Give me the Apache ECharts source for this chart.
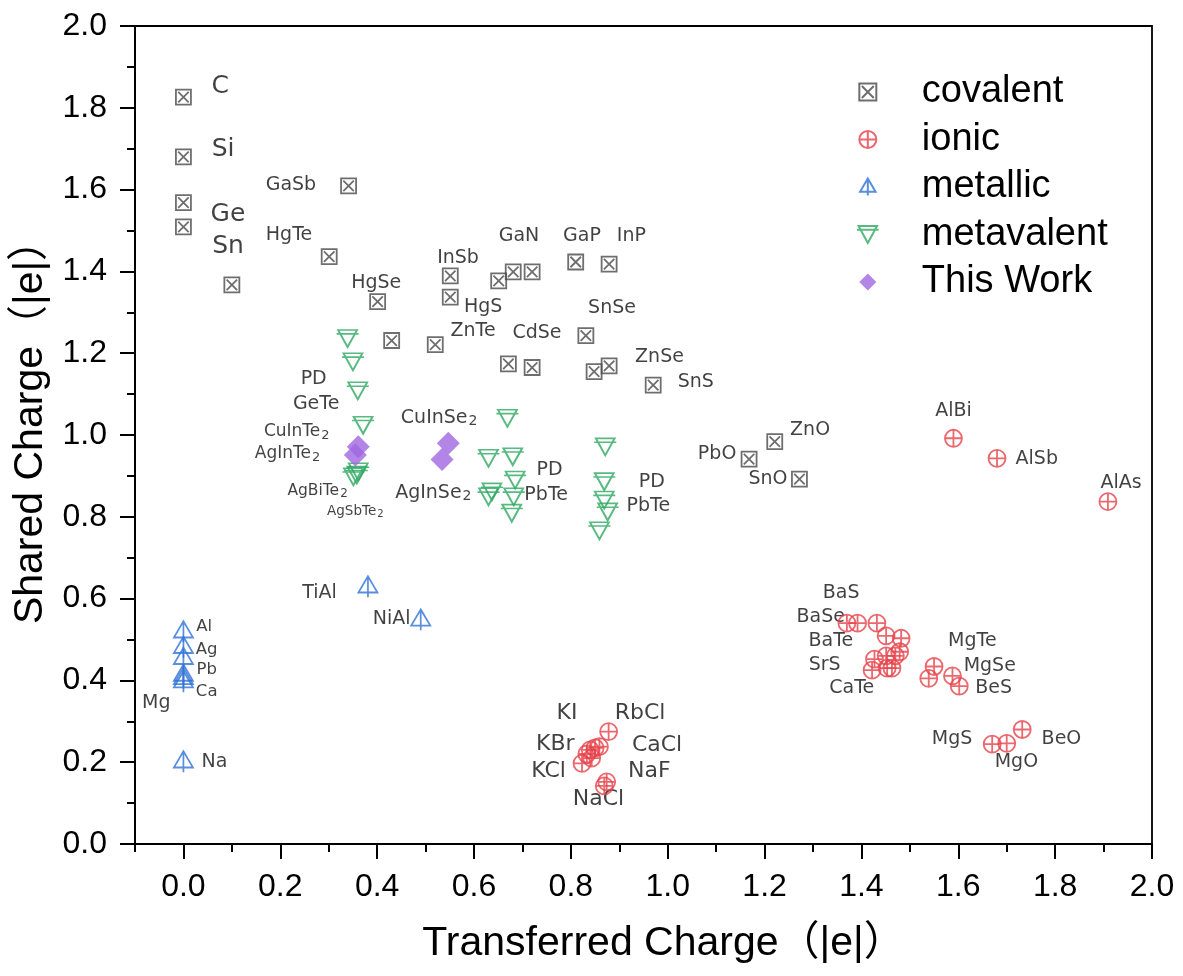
<!DOCTYPE html>
<html><head><meta charset="utf-8">
<script src="https://cdn.jsdelivr.net/npm/echarts@6/dist/echarts.min.js"></script>
<style>html,body{margin:0;padding:0;background:#fff}#c{width:1183px;height:976px}</style>
</head><body><div id="c"></div>
<script>
// ---- tick values ----
const xTicks = [0.0, 0.2, 0.4, 0.6, 0.8, 1.0, 1.2, 1.4, 1.6, 1.8, 2.0];
const xMinorTicks = [-0.1, 0.1, 0.3, 0.5, 0.7, 0.9, 1.1, 1.3, 1.5, 1.7, 1.9];

// ---- series data [transferred, shared] ----
const covalent = [
  [0.000,1.826],[0.000,1.680],[0.000,1.568],[0.000,1.509],[0.100,1.367],
  [0.341,1.609],[0.301,1.436],[0.401,1.326],[0.430,1.231],[0.520,1.221],
  [0.551,1.389],[0.551,1.337],[0.651,1.377],[0.681,1.399],[0.720,1.399],
  [0.810,1.423],[0.879,1.418],[0.831,1.243],[0.671,1.174],[0.720,1.165],
  [0.848,1.155],[0.879,1.169],[0.970,1.122],[1.168,0.941],[1.221,0.984],[1.272,0.892]
];
const ionic = [
  [1.590,0.992],[1.680,0.943],[1.909,0.837],
  [1.370,0.540],[1.392,0.540],[1.432,0.540],[1.451,0.509],[1.482,0.503],
  [1.479,0.470],[1.451,0.460],[1.427,0.452],[1.470,0.460],[1.422,0.425],
  [1.453,0.430],[1.463,0.430],[1.550,0.434],[1.539,0.405],[1.588,0.411],[1.602,0.386],
  [1.670,0.244],[1.700,0.246],[1.732,0.280],
  [0.878,0.275],[0.859,0.238],[0.850,0.235],[0.840,0.230],[0.833,0.220],
  [0.843,0.210],[0.823,0.197],[0.874,0.152],[0.869,0.142]
];
const metallic = [
  [0.000,0.519],[0.000,0.481],[0.000,0.454],[0.000,0.413],[0.000,0.405],[0.000,0.397],
  [0.000,0.201],[0.381,0.629],[0.490,0.548]
];
const metavalent = [
  [0.339,1.236],[0.350,1.179],[0.360,1.108],[0.371,1.024],[0.361,0.910],[0.351,0.898],[0.358,0.902],
  [0.669,1.041],[0.630,0.943],[0.680,0.947],[0.685,0.890],[0.637,0.861],[0.630,0.849],[0.682,0.849],[0.678,0.809],
  [0.871,0.971],[0.869,0.886],[0.869,0.841],[0.876,0.812],[0.859,0.766]
];
const thisWork = [
  [0.361,0.971],[0.355,0.951],[0.547,0.980],[0.534,0.940]
];

// ---- annotation labels [text, x, y] ----
const annoElements = [['C',0.076,1.852],['Si',0.082,1.697],['Ge',0.092,1.538],['Sn',0.092,1.460]];
const annoSalts = [
  ['KI',0.792,0.320],['RbCl',0.943,0.320],['KBr',0.768,0.244],['CaCl',0.978,0.242],
  ['KCl',0.754,0.179],['NaF',0.962,0.179],['NaCl',0.857,0.109]
];
const annoCompounds = [
  ['GaSb',0.222,1.610],['HgTe',0.218,1.489],['InSb',0.567,1.433],['HgSe',0.398,1.372],
  ['HgS',0.619,1.313],['ZnTe',0.598,1.253],['CdSe',0.730,1.250],['SnSe',0.885,1.310],
  ['ZnSe',0.983,1.191],['SnS',1.058,1.130],['GaN',0.693,1.487],['GaP',0.823,1.487],
  ['InP',0.925,1.487],['PbO',1.102,0.954],['SnO',1.207,0.892],['ZnO',1.294,1.012],
  ['AlBi',1.590,1.059],['AlSb',1.762,0.941],['AlAs',1.936,0.882],
  ['BaS',1.358,0.614],['BaSe',1.316,0.556],['BaTe',1.337,0.497],['SrS',1.324,0.438],
  ['CaTe',1.380,0.381],['MgTe',1.629,0.497],['MgSe',1.665,0.435],['BeS',1.673,0.381],
  ['MgS',1.587,0.256],['MgO',1.720,0.201],['BeO',1.813,0.256],
  ['Mg',-0.056,0.344],['Na',0.064,0.201],['TiAl',0.281,0.613],['NiAl',0.430,0.549],
  ['PD',0.269,1.136],['GeTe',0.274,1.076],['CuInSe₂',0.528,1.042],['AgInSe₂',0.516,0.859],
  ['PD',0.756,0.914],['PbTe',0.749,0.853],['PD',0.967,0.886],['PbTe',0.960,0.826]
];
const annoMetals = [['Al',0.043,0.531],['Ag',0.048,0.476],['Pb',0.048,0.425],['Ca',0.048,0.372]];
const annoTellurides = [['CuInTe₂',0.234,1.008],['AgInTe₂',0.215,0.954]];
const annoAgBiTe = [['AgBiTe₂',0.277,0.864]];
const annoAgSbTe = [['AgSbTe₂',0.355,0.812]];

// ---- chart ----
const SANS = 'Liberation Sans, Arial, Noto Sans CJK SC, sans-serif';
const LBL = 'DejaVu Sans, Verdana, sans-serif';
const clear = 'rgba(255,255,255,0)';

function markerSeries(name, data, symbol, size, color) {
  return {
    name, type: 'scatter', data, symbol, symbolSize: size, silent: true, z: 4,
    itemStyle: { color: clear, borderColor: color, borderWidth: 1.8 }
  };
}
function annoSeries(list, fontSize) {
  return {
    type: 'scatter', silent: true, z: 3, symbolSize: 1,
    itemStyle: { color: clear },
    data: list.map(d => ({ name: d[0], value: [d[1], d[2]] })),
    label: {
      show: true, position: 'inside', color: '#111', fontFamily: LBL, fontSize,
      formatter: p => p.name.indexOf('₂') >= 0 ? '{n|' + p.name.replace('₂', '') + '}{s|2}' : p.name,
      rich: {
        n: { fontFamily: LBL, fontSize, color: '#111', lineHeight: fontSize },
        s: { fontFamily: LBL, fontSize: Math.round(fontSize * 0.75), color: '#111',
             padding: [Math.round(fontSize * 0.4), 0, 0, 1] }
      }
    }
  };
}

const chart = echarts.init(document.getElementById('c'), null, { renderer: 'canvas' });
chart.setOption({
  animation: false,
  backgroundColor: '#fff',
  grid: { left: 135, right: 31, top: 26, bottom: 132, show: true,
          borderColor: '#000', borderWidth: 1.8, backgroundColor: clear },
  legend: {
    data: ['covalent', 'ionic', 'metallic', 'metavalent', 'This Work'],
    orient: 'vertical', left: 851, top: 68, itemWidth: 98, itemHeight: 17, itemGap: 9.5,
    textStyle: { fontFamily: SANS, fontSize: 38, color: '#000' },
    selectedMode: false
  },
  xAxis: [{
    type: 'value', min: -0.1, max: 2.0,
    name: 'Transferred Charge（|e|）', nameLocation: 'middle', nameGap: 79,
    nameTextStyle: { fontFamily: SANS, fontSize: 41, color: '#000', padding: [0, 0, 0, 40] },
    axisLine: { show: true, onZero: false, lineStyle: { color: '#000', width: 2 } },
    axisTick: { show: true, customValues: xTicks, length: 15, lineStyle: { color: '#000', width: 2 } },
    axisLabel: { customValues: xTicks, formatter: v => v.toFixed(1), margin: 27,
                 fontFamily: SANS, fontSize: 32, color: '#000' },
    splitLine: { show: false }
  }, {
    type: 'value', min: -0.1, max: 2.0, position: 'bottom',
    axisLine: { show: false },
    axisTick: { show: true, customValues: xMinorTicks, length: 8, lineStyle: { color: '#000', width: 2 } },
    axisLabel: { show: false },
    splitLine: { show: false }
  }],
  yAxis: {
    type: 'value', min: 0, max: 2.0, interval: 0.2,
    name: 'Shared Charge（|e|）', nameLocation: 'middle', nameGap: 78,
    nameTextStyle: { fontFamily: SANS, fontSize: 41, color: '#000', padding: [0, 0, 0, 26] },
    axisLine: { show: true, onZero: false, lineStyle: { color: '#000', width: 2 } },
    axisTick: { show: true, length: 15, lineStyle: { color: '#000', width: 2 } },
    minorTick: { show: true, splitNumber: 2, length: 8, lineStyle: { color: '#000', width: 2 } },
    axisLabel: { formatter: v => v.toFixed(1), margin: 28, fontFamily: SANS, fontSize: 32, color: '#000' },
    splitLine: { show: false }, minorSplitLine: { show: false }
  },
  series: [
    markerSeries('covalent', covalent, 'path://M0,0L10,0L10,10L0,10ZM1.5,1.5L8.5,8.5M8.5,1.5L1.5,8.5', 15, '#4a4a4a'),
    markerSeries('ionic', ionic, 'path://M0,5A5,5,0,1,1,10,5A5,5,0,1,1,0,5ZM5,0L5,10M0,5L10,5', 17, '#e6424a'),
    markerSeries('metallic', metallic, 'path://M5,0L10,8.5L0,8.5ZM5,0L5,11', [19, 21], '#2f72d6'),
    markerSeries('metavalent', metavalent, 'path://M1,0L13,0L7,11ZM0,2.5L14,2.5', [22, 17], '#2ea862'),
    {
      name: 'This Work', type: 'scatter', data: thisWork, silent: true, z: 5,
      symbol: 'path://M5,0L10,5L5,10L0,5Z', symbolSize: 23,
      itemStyle: { color: '#a066e0' }
    },
    annoSeries(annoElements, 25),
    annoSeries(annoSalts, 22),
    annoSeries(annoCompounds, 19),
    annoSeries(annoMetals, 16.5),
    annoSeries(annoTellurides, 17),
    annoSeries(annoAgBiTe, 15.5),
    annoSeries(annoAgSbTe, 13.5)
  ]
});
</script>
</body></html>
